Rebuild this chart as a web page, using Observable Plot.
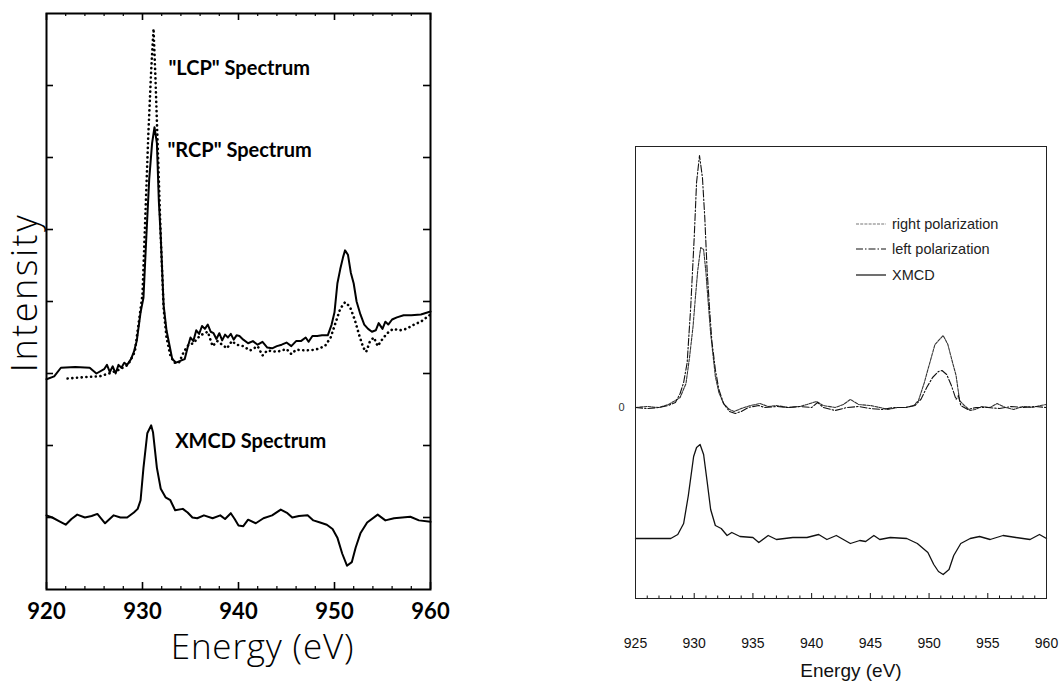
<!DOCTYPE html>
<html>
<head>
<meta charset="utf-8">
<script src="https://cdn.jsdelivr.net/npm/d3@7"></script>
<script src="https://cdn.jsdelivr.net/npm/@observablehq/plot@0.6"></script>
<style>
  html, body { margin: 0; padding: 0; background: #fff; }
  #wrap { position: relative; width: 1064px; height: 682px; overflow: hidden; background: #fff; }
  #left { position: absolute; left: 0; top: 0; }
  #right { position: absolute; left: 560px; top: 0; }
  #legend { position: absolute; left: 855px; top: 211px; font-family: "Liberation Sans", Arial, sans-serif; font-size: 14.5px; color: #222; }
  #legend .row { display: flex; align-items: center; height: 25.5px; }
  #legend svg { margin-right: 5px; }
</style>
</head>
<body>
<div id="wrap">
  <div id="left"></div>
  <div id="right"></div>
  <div id="legend"></div>
</div>
<script>
// ---------------- Left panel data (Energy in eV, intensity in arbitrary units) ----------------
const rcpEnergy = [920, 920.8, 921.5, 923, 924.5, 925.2, 926, 926.3, 926.6, 926.9, 927.2, 927.5, 927.8, 928.1, 928.4, 928.8, 929.1, 929.4, 929.8, 930.1, 930.4, 930.7, 931.0, 931.25, 931.5, 931.7, 931.9, 932.2, 932.5, 932.8, 933.1, 933.5, 934.0, 934.4, 934.7, 935.0, 935.3, 935.6, 935.9, 936.2, 936.5, 936.8, 937.1, 937.4, 937.7, 938.0, 938.3, 938.6, 938.9, 939.2, 939.5, 939.8, 940.1, 940.5, 941.0, 941.5, 942.0, 942.5, 943.0, 943.5, 944.0, 944.5, 945.0, 945.5, 946.0, 946.5, 947.0, 947.3, 947.7, 948.2, 948.7, 949.3, 949.7, 950.0, 950.3, 950.6, 950.9, 951.1, 951.4, 951.7, 952.0, 952.3, 952.7, 953.1, 953.5, 953.9, 954.3, 954.6, 955.0, 955.3, 955.6, 956.0, 956.5, 957.2, 958.0, 959.0, 960];
const rcpValue = [2.92, 2.96, 3.08, 3.09, 3.08, 3.0, 3.06, 3.12, 3.02, 3.10, 3.0, 3.12, 3.08, 3.15, 3.12, 3.20, 3.30, 3.45, 3.85, 4.05, 4.9, 5.7, 6.2, 6.42, 6.2, 5.4, 4.9, 3.95, 3.6, 3.4, 3.2, 3.15, 3.18, 3.2, 3.36, 3.5, 3.45, 3.6, 3.55, 3.66, 3.62, 3.68, 3.58, 3.56, 3.48, 3.56, 3.46, 3.54, 3.50, 3.55, 3.47, 3.53, 3.52, 3.47, 3.42, 3.45, 3.40, 3.44, 3.36, 3.35, 3.38, 3.40, 3.43, 3.38, 3.45, 3.45, 3.50, 3.44, 3.52, 3.52, 3.53, 3.53, 3.68, 3.85, 4.25, 4.45, 4.62, 4.71, 4.65, 4.4, 4.25, 4.0, 3.82, 3.68, 3.62, 3.58, 3.6, 3.7, 3.62, 3.72, 3.68, 3.75, 3.78, 3.81, 3.81, 3.82, 3.86];

const lcpEnergy = [922.2, 924, 925.5, 926.5, 927.5, 928.5, 929.2, 929.6, 930.0, 930.3, 930.6, 930.9, 931.15, 931.35, 931.6, 931.9, 932.2, 932.5, 932.9, 933.3, 933.8, 934.3, 934.8, 935.3, 935.8, 936.3, 936.8, 937.3, 937.8, 938.3, 938.8, 939.3, 939.8, 940.5, 941.2, 942, 942.5, 943, 944, 945, 945.5, 946, 947, 948, 949, 949.6, 950.1, 950.6, 951.1, 951.6, 952.1, 952.6, 953.0, 953.3, 953.7, 954.1, 954.5, 955, 955.5, 956.1, 956.8, 957.5, 958.3, 959, 960];
const lcpValue = [2.93, 2.95, 2.96, 3.0, 3.05, 3.12, 3.3, 3.7, 4.1, 5.2, 6.3, 7.2, 7.79, 7.1, 6.1, 4.9, 3.9, 3.5, 3.25, 3.15, 3.15, 3.3, 3.4, 3.42, 3.5, 3.55, 3.58, 3.38, 3.45, 3.4, 3.35, 3.45, 3.4, 3.38, 3.32, 3.38, 3.25, 3.32, 3.3, 3.34, 3.27, 3.33, 3.32, 3.33, 3.38, 3.5, 3.7, 3.9, 3.99, 3.93, 3.75, 3.52, 3.36, 3.3, 3.45, 3.5, 3.38, 3.48, 3.56, 3.62, 3.6, 3.62, 3.68, 3.72, 3.82];

const xmcdLeftEnergy = [920, 920.6, 921.3, 922, 922.6, 923.2, 924, 924.7, 925.3, 926.1, 927, 927.7, 928.4, 929.1, 929.5, 929.8, 930.1, 930.5, 930.9, 931.1, 931.5, 931.9, 932.4, 932.9, 933.4, 934.2, 934.7, 935.2, 935.7, 936.4, 937.3, 938.1, 938.6, 939.2, 939.6, 940.0, 940.5, 941.0, 941.8, 942.6, 943.5, 944.4, 945.1, 945.6, 946.3, 947.2, 947.8, 948.5, 949.2, 949.8, 950.3, 950.8, 951.3, 951.8, 952.2, 952.7, 953.4, 954.5, 955.3, 956.2, 957.9, 958.8, 960];
const xmcdLeftValue = [1.03, 1.0, 0.95, 0.9, 0.98, 1.04, 1.0, 1.02, 1.05, 0.92, 1.03, 1.0, 1.0, 1.07, 1.12, 1.24, 1.69, 2.17, 2.28, 2.18, 1.69, 1.40, 1.28, 1.24, 1.10, 1.12, 1.07, 1.0, 0.99, 1.03, 0.99, 1.03, 0.98, 1.06, 0.98, 0.89, 0.88, 0.97, 0.92, 0.99, 1.03, 1.11, 1.06, 1.0, 1.02, 1.03, 0.96, 0.93, 0.9, 0.84, 0.72, 0.5, 0.33, 0.38, 0.58, 0.78, 0.93, 1.04, 0.96, 0.99, 1.01, 0.96, 0.94];

const leftLabels = ['"LCP" Spectrum', '"RCP" Spectrum', 'XMCD Spectrum'];
const leftLabelEnergy = [932.7, 932.6, 933.4];
const leftLabelValue = [7.24, 6.10, 2.06];

const leftXTicks = [920, 930, 940, 950, 960];
const leftXMinor = [922, 924, 926, 928, 932, 934, 936, 938, 942, 944, 946, 948, 952, 954, 956, 958];
const leftYTicks = [1, 2, 3, 4, 5, 6, 7];

// ---------------- Right panel data ----------------
const leftPolEnergy = [925, 926, 927, 927.8, 928.4, 928.8, 929.1, 929.4, 929.7, 930.0, 930.2, 930.45, 930.7, 930.9, 931.1, 931.3, 931.5, 931.8, 932.1, 932.5, 933.0, 933.5, 934.0, 934.6, 935.5, 936.0, 937, 938, 939, 940, 940.5, 941, 942, 943, 944, 945, 946, 947, 948, 948.8, 949.3, 949.8, 950.3, 950.8, 951.1, 951.5, 951.9, 952.3, 952.5, 952.7, 953.3, 954, 955, 956, 957, 958, 959, 960];
const leftPolValue = [0, -0.01, 0, 0.02, 0.05, 0.14, 0.25, 0.45, 1.0, 1.7, 2.25, 2.52, 2.3, 1.9, 1.37, 1.0, 0.67, 0.38, 0.18, 0.04, -0.04, -0.06, -0.04, 0.0, 0.02, 0.0, 0.01, 0.0, 0.01, 0.0, 0.05, 0.0, -0.03, 0.0, 0.01, -0.01, -0.02, 0.0, 0.0, 0.02, 0.08, 0.2, 0.3, 0.36, 0.37, 0.33, 0.22, 0.08, 0.12, 0.02, -0.02, 0.0, 0.0, -0.01, 0.01, 0.0, 0.01, 0.0];

const rightPolEnergy = [925, 926, 927, 927.8, 928.4, 928.8, 929.3, 929.6, 929.9, 930.1, 930.3, 930.55, 930.8, 931.0, 931.1, 931.4, 931.8, 932.1, 932.5, 933.0, 933.4, 934.0, 934.8, 935.6, 936.3, 937, 938, 939, 939.6, 940.4, 941, 942, 942.7, 943.3, 944, 945, 945.8, 946.5, 947.3, 948, 948.7, 949.1, 949.6, 949.9, 950.5, 951.2, 951.6, 952.0, 952.3, 952.6, 953.0, 953.5, 953.9, 954.5, 955.2, 955.8, 956.5, 957.2, 958, 958.8, 959.5, 960];
const rightPolValue = [0.0, 0.01, 0.0, 0.03, 0.07, 0.1, 0.24, 0.5, 0.81, 1.1, 1.37, 1.6, 1.58, 1.35, 1.19, 0.74, 0.31, 0.15, 0.04, -0.02, -0.04, -0.01, 0.02, 0.04, 0.01, 0.02, 0.0, 0.01, 0.03, 0.06, 0.02, 0.0, 0.03, 0.08, 0.03, 0.02, 0.0, -0.02, 0.0, 0.0, 0.02, 0.07, 0.25, 0.38, 0.63, 0.72, 0.63, 0.45, 0.32, 0.07, 0.02, -0.03, -0.02, 0.01, 0.0, 0.04, 0.0, -0.02, 0.01, 0.0, 0.02, 0.03];

const xmcdRightEnergy = [925, 928.0, 928.6, 929.1, 929.5, 929.95, 930.2, 930.5, 930.8, 931.1, 931.4, 931.8, 932.3, 932.8, 933.2, 933.9, 935.0, 935.5, 936.3, 937.0, 938.4, 939.6, 940.6, 941.3, 942.1, 943.3, 944.1, 944.6, 945.3, 945.8, 946.7, 948.1, 949.0, 949.9, 950.4, 950.8, 951.2, 951.7, 952.1, 952.7, 953.5, 954.3, 955.2, 956.3, 957.4, 958.6, 959.4, 960];
const xmcdRightValue = [-1.31, -1.31, -1.27, -1.16, -0.88, -0.49, -0.40, -0.37, -0.47, -0.74, -1.02, -1.18, -1.21, -1.28, -1.25, -1.29, -1.30, -1.35, -1.28, -1.32, -1.30, -1.30, -1.27, -1.32, -1.28, -1.36, -1.33, -1.34, -1.28, -1.32, -1.30, -1.31, -1.36, -1.45, -1.57, -1.64, -1.67, -1.62, -1.48, -1.36, -1.31, -1.29, -1.32, -1.28, -1.30, -1.32, -1.27, -1.31];

const rightXTicks = [925, 930, 935, 940, 945, 950, 955, 960];
const rightXMinor = d3.range(926, 960).filter(v => v % 5 !== 0);
const rightYLabels = [0];

const legendLabels = ["right polarization", "left polarization", "XMCD"];
const legendDashes = ["3,1.2", "7,2,1.5,2", "none"];

// ---------------- Build tables ----------------
const zip = (xs, ys) => xs.map((x, i) => ({x, y: ys[i]}));
const rcp = zip(rcpEnergy, rcpValue);
const lcp = zip(lcpEnergy, lcpValue);
const xmcdL = zip(xmcdLeftEnergy, xmcdLeftValue);
const annL = leftLabels.map((t, i) => ({t, x: leftLabelEnergy[i], y: leftLabelValue[i]}));
const lpol = zip(leftPolEnergy, leftPolValue);
const rpol = zip(rightPolEnergy, rightPolValue);
const xmcdR = zip(xmcdRightEnergy, xmcdRightValue);

// ---------------- Left panel ----------------
const LW = 460, LH = 682, LmL = 46, LmR = 30, LmT = 13, LmB = 93;
const LfW = LW - LmL - LmR, LfH = LH - LmT - LmB;
const boldFont = "Lato, 'Open Sans', sans-serif";
const lightFont = "'Open Sans', Lato, sans-serif";

const leftPlot = Plot.plot({
  width: LW, height: LH,
  marginLeft: LmL, marginRight: LmR, marginTop: LmT, marginBottom: LmB,
  style: {background: "white", overflow: "visible"},
  x: {domain: [920, 960], axis: null},
  y: {domain: [0, 8], axis: null},
  marks: [
    // ticks (inward)
    Plot.tickX(leftXTicks, {x: d => d, insetTop: LfH - 7, stroke: "black", strokeWidth: 1.6}),
    Plot.tickX(leftXTicks, {x: d => d, insetBottom: LfH - 7, stroke: "black", strokeWidth: 1.6}),
    Plot.tickX(leftXMinor, {x: d => d, insetTop: LfH - 3, stroke: "black", strokeWidth: 1.2}),
    Plot.tickX(leftXMinor, {x: d => d, insetBottom: LfH - 3, stroke: "black", strokeWidth: 1.2}),
    Plot.tickY(leftYTicks, {y: d => d, insetRight: LfW - 7, stroke: "black", strokeWidth: 1.6}),
    Plot.tickY(leftYTicks, {y: d => d, insetLeft: LfW - 7, stroke: "black", strokeWidth: 1.6}),
    // curves
    Plot.line(lcp, {x: "x", y: "y", stroke: "black", strokeWidth: 2.6, strokeDasharray: "0.1,4.6", strokeLinecap: "round"}),
    Plot.line(rcp, {x: "x", y: "y", stroke: "black", strokeWidth: 2, strokeLinejoin: "round"}),
    Plot.line(xmcdL, {x: "x", y: "y", stroke: "black", strokeWidth: 2, strokeLinejoin: "round"}),
    // annotations
    Plot.text(annL, {x: "x", y: "y", text: "t", textAnchor: "start", fontSize: 20, fontWeight: "bold", fontFamily: boldFont, fill: "black"}),
    // tick labels
    Plot.text(leftXTicks, {x: d => d, frameAnchor: "bottom", lineAnchor: "middle", dy: 22, text: d => String(d), fontSize: 22, fontWeight: "bold", fontFamily: boldFont, fill: "black"}),
    // axis labels
    Plot.text(["Energy (eV)"], {frameAnchor: "bottom", lineAnchor: "middle", textAnchor: "middle", dx: 24, dy: 58, text: d => d, fontSize: 35, fontWeight: 300, fontFamily: lightFont, fill: "black"}),
    Plot.text(["Intensity"], {frameAnchor: "left", lineAnchor: "middle", textAnchor: "middle", dx: -21, dy: -9, rotate: -90, text: d => d, fontSize: 36, fontWeight: 300, fontFamily: lightFont, fill: "black"}),
    Plot.frame({stroke: "black", strokeWidth: 2})
  ]
});
d3.select(leftPlot).selectAll("text").each(function() {
  const t = this.textContent;
  if (t === "Intensity") this.style.letterSpacing = "2.5px";
  if (t === "Energy (eV)") this.style.letterSpacing = "0.8px";
});
document.getElementById("left").appendChild(leftPlot);

// ---------------- Right panel ----------------
const RW = 504, RH = 682, RmL = 75, RmR = 18, RmT = 146, RmB = 84;
const RfW = RW - RmL - RmR, RfH = RH - RmT - RmB;
const sansFont = "'Liberation Sans', Arial, Helvetica, sans-serif";

const rightPlot = Plot.plot({
  width: RW, height: RH,
  marginLeft: RmL, marginRight: RmR, marginTop: RmT, marginBottom: RmB,
  style: {background: "transparent", overflow: "visible"},
  x: {domain: [925, 960], axis: null},
  y: {domain: [-1.91, 2.61], axis: null},
  marks: [
    Plot.tickX(rightXTicks, {x: d => d, insetTop: RfH - 5, stroke: "#111", strokeWidth: 1}),
    Plot.tickX(rightXMinor, {x: d => d, insetTop: RfH - 2.5, stroke: "#111", strokeWidth: 1}),
    Plot.line(rpol, {x: "x", y: "y", stroke: "#333", strokeWidth: 1.1, strokeDasharray: legendDashes[0]}),
    Plot.line(lpol, {x: "x", y: "y", stroke: "#111", strokeWidth: 1.1, strokeDasharray: legendDashes[1]}),
    Plot.line(xmcdR, {x: "x", y: "y", stroke: "#111", strokeWidth: 1.3, strokeLinejoin: "round"}),
    Plot.text(rightXTicks, {x: d => d, frameAnchor: "bottom", lineAnchor: "middle", dy: 45, text: d => String(d), fontSize: 14, fontFamily: sansFont, fill: "#111"}),
    Plot.text(rightYLabels, {y: d => d, frameAnchor: "left", textAnchor: "middle", dx: -14, text: d => String(d), fontSize: 11, fontFamily: sansFont, fill: "#333"}),
    Plot.text(["Energy (eV)"], {frameAnchor: "bottom", lineAnchor: "middle", textAnchor: "middle", dx: 10, dy: 72, text: d => d, fontSize: 19, fontFamily: sansFont, fill: "#111"}),
    Plot.frame({stroke: "#222", strokeWidth: 1})
  ]
});
document.getElementById("right").appendChild(rightPlot);

// ---------------- Legend (right panel) ----------------
const legend = d3.select("#legend");
legendLabels.forEach((lab, i) => {
  const row = legend.append("div").attr("class", "row");
  const svg = row.append("svg").attr("width", 32).attr("height", 8);
  svg.append("line").attr("x1", 1).attr("x2", 31).attr("y1", 4).attr("y2", 4)
    .attr("stroke", i === 0 ? "#777" : "#111").attr("stroke-width", 1.2)
    .attr("stroke-dasharray", legendDashes[i] === "none" ? null : legendDashes[i]);
  row.append("span").text(lab);
});
</script>
</body>
</html>
